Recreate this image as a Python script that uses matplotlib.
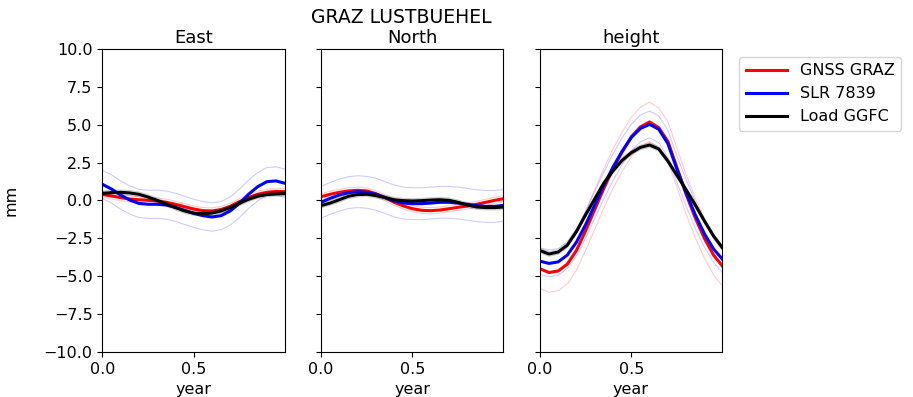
"""
Seasonal signal comparison at GRAZ LUSTBUEHEL: GNSS, SLR and loading model.
"""

import matplotlib
matplotlib.use('Agg')
import matplotlib.pyplot as plt

STATION = 'GRAZ LUSTBUEHEL'
COMPONENTS = ['East', 'North', 'height']
SERIES = ['GNSS GRAZ', 'SLR 7839', 'Load GGFC']

# fraction of year, sampled every 0.05
YEAR_FRAC = [0.0, 0.05, 0.1, 0.15, 0.2, 0.25, 0.3, 0.35, 0.4, 0.45, 0.5,
             0.55, 0.6, 0.65, 0.7, 0.75, 0.8, 0.85, 0.9, 0.95, 1.0]

# displacement (mm)
GNSS_EAST = [0.4, 0.3, 0.19, 0.1, 0.05, 0.01, -0.03, -0.12, -0.25, -0.41, -0.56,
             -0.67, -0.69, -0.6, -0.39, -0.08, 0.19, 0.41, 0.54, 0.6, 0.58]
SLR_EAST = [1.07, 0.76, 0.36, 0.03, -0.19, -0.25, -0.25, -0.3, -0.45, -0.65, -0.85,
            -1.0, -1.09, -1.0, -0.69, -0.19, 0.41, 0.91, 1.24, 1.29, 1.13]
LOAD_EAST = [0.47, 0.52, 0.54, 0.5, 0.41, 0.23, 0.01, -0.23, -0.47, -0.69, -0.83,
             -0.87, -0.83, -0.69, -0.47, -0.19, 0.08, 0.28, 0.39, 0.43, 0.45]

GNSS_NORTH = [0.25, 0.41, 0.54, 0.63, 0.67, 0.63, 0.45, 0.19, -0.12, -0.36, -0.54,
              -0.65, -0.67, -0.63, -0.54, -0.45, -0.36, -0.25, -0.12, 0.01, 0.12]
SLR_NORTH = [-0.12, 0.14, 0.36, 0.52, 0.58, 0.54, 0.41, 0.19, -0.03, -0.17, -0.21,
             -0.21, -0.17, -0.12, -0.12, -0.17, -0.25, -0.34, -0.39, -0.39, -0.32]
LOAD_NORTH = [-0.34, -0.17, 0.05, 0.28, 0.39, 0.41, 0.32, 0.19, 0.05, -0.01, -0.03,
              -0.01, 0.03, 0.05, 0.01, -0.12, -0.3, -0.43, -0.47, -0.47, -0.43]

GNSS_HEIGHT = [-4.5, -4.75, -4.65, -4.2, -3.3, -2.0, -0.6, 0.8, 2.1, 3.2, 4.2,
               4.85, 5.18, 4.8, 3.9, 2.15, 0.4, -1.15, -2.5, -3.6, -4.35]
SLR_HEIGHT = [-4.0, -4.15, -4.05, -3.6, -2.75, -1.6, -0.3, 1.0, 2.2, 3.25, 4.15,
              4.75, 5.02, 4.7, 3.75, 2.05, 0.5, -0.95, -2.2, -3.2, -3.9]
LOAD_HEIGHT = [-3.3, -3.53, -3.4, -2.95, -2.05, -0.95, 0.1, 1.15, 1.95, 2.65, 3.15,
               3.5, 3.66, 3.4, 2.6, 1.65, 0.7, -0.3, -1.35, -2.35, -3.15]

# 1-sigma half width of the thin envelope lines (mm)
GNSS_SIGMA = [0.2, 0.2, 1.3]
SLR_SIGMA = [0.93, 1.05, 0.88]
LOAD_SIGMA = [0.15, 0.15, 0.15]

VALUES = {
    'GNSS GRAZ': [GNSS_EAST, GNSS_NORTH, GNSS_HEIGHT],
    'SLR 7839': [SLR_EAST, SLR_NORTH, SLR_HEIGHT],
    'Load GGFC': [LOAD_EAST, LOAD_NORTH, LOAD_HEIGHT],
}
SIGMAS = {'GNSS GRAZ': GNSS_SIGMA, 'SLR 7839': SLR_SIGMA, 'Load GGFC': LOAD_SIGMA}
COLORS = {'GNSS GRAZ': 'red', 'SLR 7839': 'blue', 'Load GGFC': 'black'}

fig, axes = plt.subplots(1, 3, figsize=(9.13, 3.97), dpi=100, sharey=True)
fig.subplots_adjust(left=0.112, right=0.791, bottom=0.113, top=0.877, wspace=0.2)
fig.suptitle(STATION, x=0.44, y=0.957, va='center', fontsize=13.5)

for i, (ax, comp) in enumerate(zip(axes, COMPONENTS)):
    for name in SERIES:
        y = VALUES[name][i]
        s = SIGMAS[name][i]
        c = COLORS[name]
        ax.plot(YEAR_FRAC, [v + s for v in y], color=c, lw=0.8, alpha=0.2)
        ax.plot(YEAR_FRAC, [v - s for v in y], color=c, lw=0.8, alpha=0.2)
        ax.plot(YEAR_FRAC, y, color=c, lw=2.2, label=name)
    ax.set_title(comp, fontsize=13, pad=4)
    ax.set_xlabel('year', fontsize=11.5)
    ax.set_xlim(0, 0.997)
    ax.set_xticks([0.0, 0.5])
    ax.tick_params(labelsize=11.5)

axes[0].set_ylim(-10, 10)
axes[0].set_yticks([-10, -7.5, -5, -2.5, 0, 2.5, 5, 7.5, 10])
axes[0].set_ylabel('mm', fontsize=11.5)
axes[0].yaxis.set_label_coords(-0.46, 0.5)
axes[2].legend(loc='upper left', bbox_to_anchor=(1.05, 1.0), fontsize=11.5,
               handlelength=2.6)

plt.savefig('out.png', dpi=100)
plt.close()
